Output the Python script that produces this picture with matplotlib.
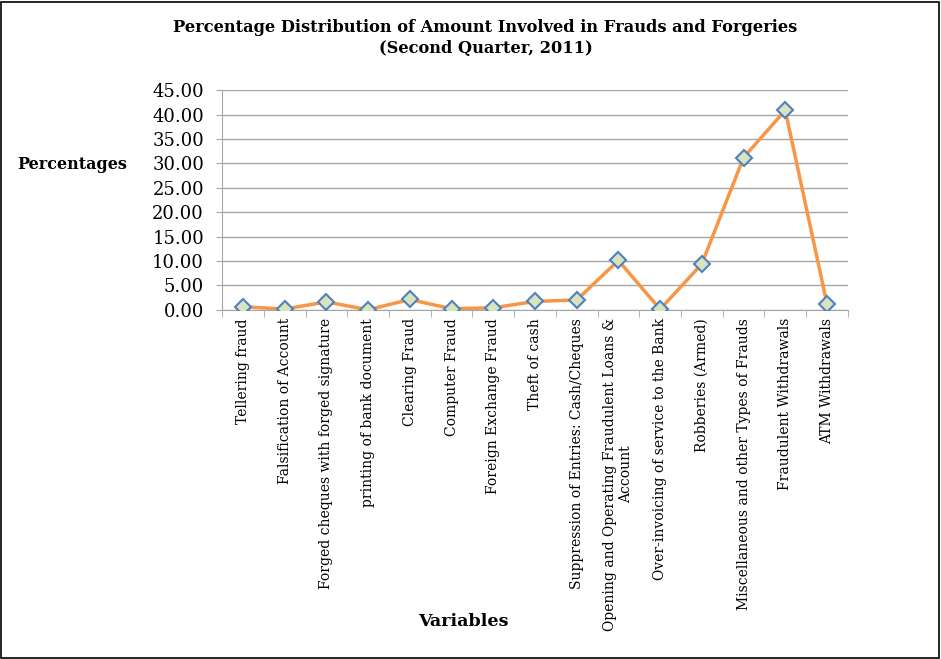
import matplotlib.pyplot as plt
from matplotlib.patches import Rectangle
import numpy as np

categories = [
    "Tellering fraud",
    "Falsification of Account",
    "Forged cheques with forged signature",
    "printing of bank document",
    "Clearing Fraud",
    "Computer Fraud",
    "Foreign Exchange Fraud",
    "Theft of cash",
    "Suppression of Entries: Cash/Cheques",
    "Opening and Operating Fraudulent Loans &\nAccount",
    "Over-invoicing of service to the Bank",
    "Robberies (Armed)",
    "Miscellaneous and other Types of Frauds",
    "Fraudulent Withdrawals",
    "ATM Withdrawals",
]
percentages = [0.6, 0.15, 1.6, 0.0, 2.1, 0.2, 0.4, 1.7, 2.0, 10.1, 0.1, 9.4, 31.2, 40.9, 1.2]
y_ticks = np.arange(0, 46, 5)

plt.rcParams['font.family'] = ['DejaVu Serif']

fig = plt.figure(figsize=(9.41, 6.59), dpi=100, facecolor='white')
ax = fig.add_axes([0.236, 0.530, 0.665, 0.333])

x = np.arange(len(categories))
ax.plot(x, percentages, color='#f79646', linewidth=2.5, zorder=3,
        marker='D', markersize=8, markerfacecolor='#d7e4bd',
        markeredgecolor='#4f81bd', markeredgewidth=1.5)

ax.set_xlim(-0.5, len(categories) - 0.5)
ax.set_ylim(0, 45)
ax.set_yticks(y_ticks)
ax.set_yticklabels([f"{v:.2f}" for v in y_ticks], fontsize=13)
ax.yaxis.grid(True, color='#a6a6a6', linewidth=1)
ax.set_axisbelow(True)
ax.tick_params(axis='y', length=4, color='#a6a6a6', pad=9)

# category labels centered, tick marks on boundaries
ax.set_xticks(x)
ax.set_xticklabels(categories, rotation=90, fontsize=10, ha='center', va='top',
                   multialignment='center')
ax.tick_params(axis='x', which='major', length=0, pad=6)
ax.set_xticks(np.arange(-0.5, len(categories)), minor=True)
ax.tick_params(axis='x', which='minor', length=5, color='#a6a6a6')

for side in ['top', 'right']:
    ax.spines[side].set_visible(False)
for side in ['left', 'bottom']:
    ax.spines[side].set_color('#a6a6a6')

fig.text(0.516, 0.958, "Percentage Distribution of Amount Involved in Frauds and Forgeries",
         ha='center', va='center', fontsize=11.7, fontweight='bold')
fig.text(0.516, 0.926, "(Second Quarter, 2011)",
         ha='center', va='center', fontsize=11.7, fontweight='bold')
fig.text(0.077, 0.750, "Percentages", ha='center', va='center', fontsize=11.5, fontweight='bold')
fig.text(0.492, 0.057, "Variables", ha='center', va='center', fontsize=12.6, fontweight='bold')

fig.patches.append(Rectangle((0.001, 0.002), 0.997, 0.995, transform=fig.transFigure,
                             fill=False, edgecolor='black', linewidth=1.2))

fig.savefig('out.png', dpi=100)
